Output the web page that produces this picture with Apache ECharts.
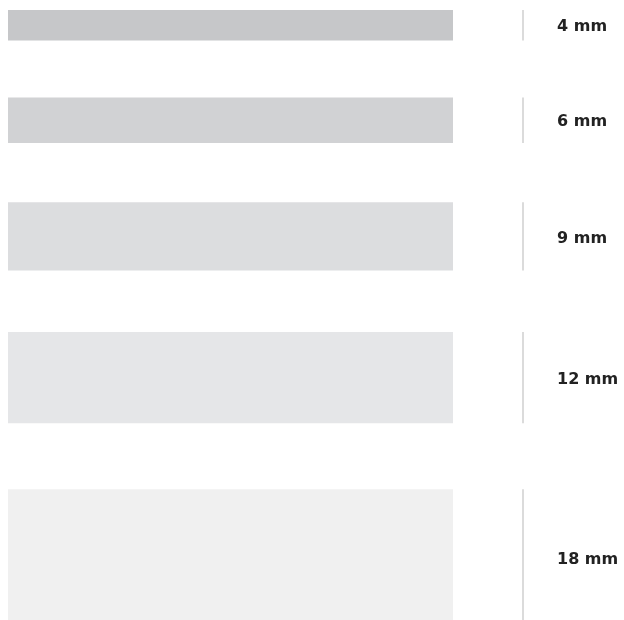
<!DOCTYPE html>
<html>
<head>
<meta charset="utf-8">
<script src="https://cdn.jsdelivr.net/npm/echarts@6/dist/echarts.min.js"></script>
<style>
html,body{margin:0;padding:0;background:#fff;}
#chart{width:624px;height:620px;}
</style>
</head>
<body>
<div id="chart"></div>
<script>
// ---- data ----
const thicknessMm = [4, 6, 9, 12, 18];
const labels = ['4 mm', '6 mm', '9 mm', '12 mm', '18 mm'];
const barLength = [1, 1, 1, 1, 1];

// ---- style / layout ----
const barColors = ['#c6c7c9', '#d1d2d4', '#dcdddf', '#e5e6e8', '#f0f0f0'];
const pxPerMm = 7.6;
const gridTop = 10, gridBottom = 0;
const gapBase = 6.91, gapFactor = 0.098; // gap (mm) before a bar grows slightly with its thickness

function startOf(i) {
  let s = 0;
  for (let j = 0; j < i; j++) {
    s += thicknessMm[j] + gapBase + gapFactor * thicknessMm[j + 1];
  }
  return s;
}

const chart = echarts.init(document.getElementById('chart'), null, {renderer: 'canvas'});
const yMax = (620 - gridTop - gridBottom) / pxPerMm;

chart.setOption({
  animation: false,
  backgroundColor: '#ffffff',
  grid: {left: 8, right: 171, top: gridTop, bottom: gridBottom},
  xAxis: {type: 'value', min: 0, max: 1, show: false},
  yAxis: {type: 'value', min: 0, max: yMax, inverse: true, show: false},
  series: [{
    type: 'custom',
    clip: false,
    data: thicknessMm.map((t, i) => [barLength[i], t]),
    renderItem: function (params, api) {
      const i = params.dataIndex;
      const len = api.value(0);
      const t = api.value(1);
      const s = startOf(i);
      const p0 = api.coord([0, s]);
      const p1 = api.coord([len, s + t]);
      const yMid = (p0[1] + p1[1]) / 2;
      return {
        type: 'group',
        children: [
          {
            type: 'rect',
            shape: {x: p0[0], y: p0[1], width: p1[0] - p0[0], height: p1[1] - p0[1]},
            style: {fill: barColors[i]}
          },
          {
            type: 'line',
            shape: {x1: p1[0] + 70, y1: p0[1], x2: p1[0] + 70, y2: p1[1]},
            style: {stroke: '#d2d2d2', lineWidth: 1.6}
          },
          {
            type: 'text',
            style: {
              x: p1[0] + 104, y: yMid + 2,
              text: labels[i],
              fill: '#222222',
              font: 'bold 16px "DejaVu Sans", sans-serif',
              verticalAlign: 'middle', align: 'left'
            }
          }
        ]
      };
    }
  }]
});
</script>
</body>
</html>
